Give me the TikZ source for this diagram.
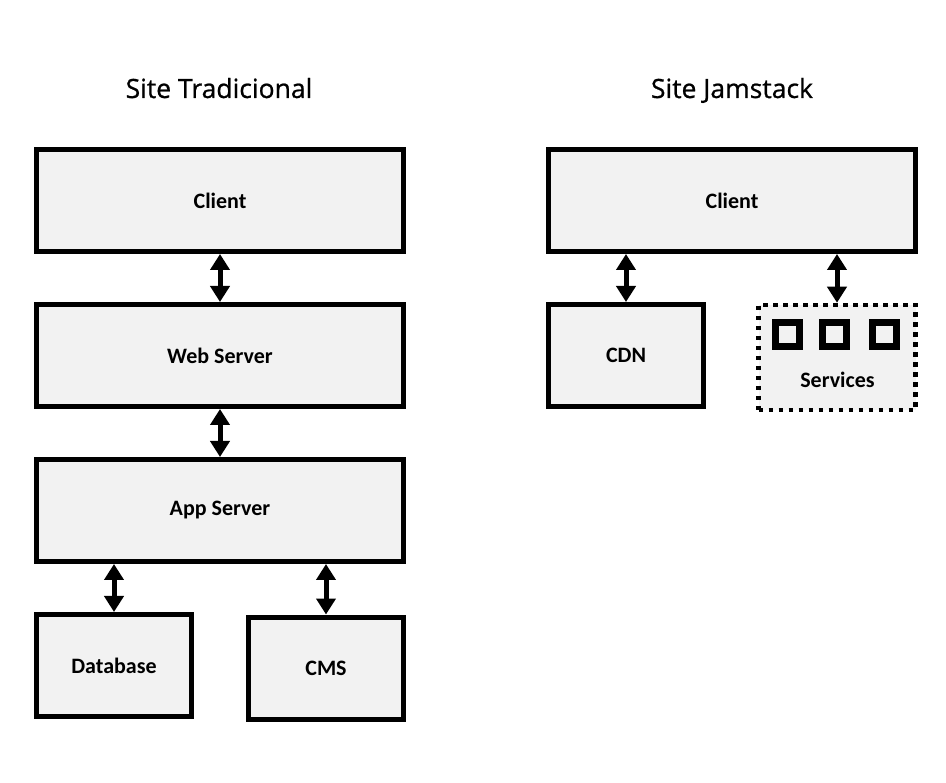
\documentclass[tikz,border=0pt]{standalone}
\usepackage{fontspec}
\setmainfont{Carlito}
\newfontfamily\titlefont[FakeBold=0.8]{Open Sans}
\usetikzlibrary{arrows.meta}
\definecolor{boxfill}{HTML}{F2F2F2}
\tikzset{
  box/.style={draw, line width=5pt, fill=boxfill, inner sep=0pt, font=\fontsize{22}{26}\selectfont\bfseries},
  wide/.style={box, minimum width=367pt, minimum height=102pt},
  small/.style={box, minimum width=155pt, minimum height=102pt},
  title/.style={anchor=base, font=\titlefont\fontsize{26.5}{31}\selectfont},
  link/.style={line width=5pt, {Triangle[width=19pt,length=16pt]}-{Triangle[width=19pt,length=16pt]}},
  cell/.style={draw, line width=7pt, fill=boxfill, minimum size=24pt, inner sep=0pt}
}
\begin{document}
\begin{tikzpicture}[x=1pt,y=-1pt]
      \useasboundingbox[fill=white] (0,0) rectangle (946,783);

      \begin{scope}
        \node[title] (tradtitle) at (219,98) {Site Tradicional};

        \node[wide] (client) at (220,200.5) {Client};
        \node[wide] (web) at (220,355.5) {Web Server};
        \node[wide] (app) at (220,510.5) {App Server};
        \node[small] (db) at (114,665.5) {Database};
        \node[small] (cms) at (326,668) {CMS};

        \draw[link] (client.south) -- (web.north);
        \draw[link] (web.south) -- (app.north);
        \draw[link] (db.north) -- (db.north |- app.south);
        \draw[link] (cms.north) -- (cms.north |- app.south);
      \end{scope}

      \begin{scope}
        \node[title] (jamtitle) at (732,98) {Site Jamstack};

        \node[wide] (jclient) at (732,200.5) {Client};
        \node[small] (cdn) at (626,355.5) {CDN};
        \node[box, line width=4.5pt, dash pattern=on 4.5pt off 5.5pt, minimum width=157pt, minimum height=105pt] (services) at (837,357.5) {};
        \node[font=\fontsize{22}{26}\selectfont\bfseries] (servlabel) at (837.5,380) {Services};

        \node[cell] (s1) at (787.5,335) {};
        \node[cell] (s2) at (834.5,335) {};
        \node[cell] (s3) at (884.5,335) {};

        \draw[link] (cdn.north) -- (cdn.north |- jclient.south);
        \draw[link] (services.north) -- (services.north |- jclient.south);
      \end{scope}
    \end{tikzpicture}
\end{document}
